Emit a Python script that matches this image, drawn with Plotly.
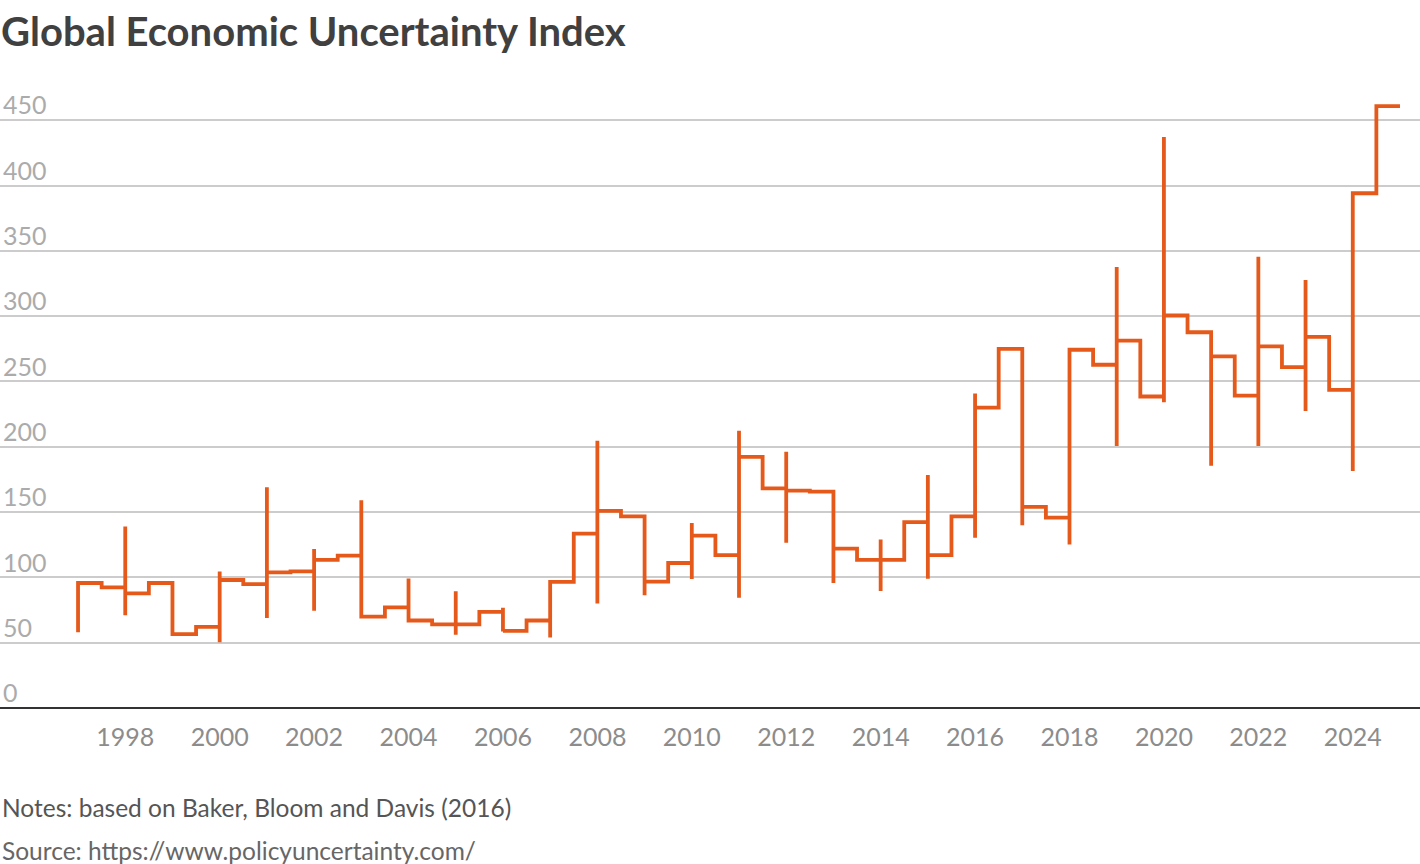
import plotly.graph_objects as go

# half-year index levels, 1997-2024 (first half, second half)
years = list(range(1997, 2025))
h1 = [95.7, 87.7, 56.5, 98.0, 103.8, 113.4, 70.0, 67.0, 64.0, 59.0,
      96.5, 151.0, 96.7, 132.0, 192.3, 166.4, 122.0, 113.4, 117.0, 230.0,
      154.0, 274.3, 281.3, 300.5, 269.2, 276.9, 284.1, 394.1]
h2 = [92.3, 95.7, 62.1, 94.9, 104.6, 116.7, 77.0, 64.0, 73.6, 67.0,
      133.5, 146.7, 111.0, 117.0, 168.2, 165.6, 113.4, 142.3, 146.7, 275.0,
      145.8, 262.8, 238.5, 287.7, 239.2, 261.0, 243.6, 460.8]
# range of the vertical stroke drawn at the start of each year
year_low = [58.0, 71.0, 56.5, 50.3, 69.0, 74.4, 70.0, 67.0, 56.0, 58.6,
            54.0, 80.0, 86.4, 98.8, 84.5, 126.5, 95.7, 89.5, 99.0, 130.3,
            140.0, 125.1, 200.5, 234.1, 185.4, 200.5, 227.4, 181.5]
year_high = [95.7, 139.0, 95.7, 104.6, 169.0, 121.8, 159.0, 99.2, 89.3, 76.8,
             96.5, 204.7, 146.7, 141.6, 212.3, 196.2, 165.6, 129.0, 178.3, 240.8,
             275.0, 274.3, 337.7, 437.2, 287.7, 345.4, 327.7, 394.1]

xs, ys = [], []
prev = None
for yr, a, b, lo, hi in zip(years, h1, h2, year_low, year_high):
    if prev is not None:
        xs += [yr, yr]
        ys += [prev, hi]
    xs += [yr, yr, yr + 0.5, yr + 0.5, yr + 1]
    ys += [lo, a, a, b, b]
    prev = b

orange = "#e5591a"
grey = "#9a9a9a"

fig = go.Figure()
fig.add_trace(go.Scatter(
    x=xs, y=ys, mode="lines",
    line=dict(color=orange, width=3.8),
    hoverinfo="skip", showlegend=False,
))

fig.update_layout(
    width=1420, height=864,
    margin=dict(l=0, r=0, t=68, b=156),
    paper_bgcolor="white", plot_bgcolor="white",
    font=dict(family="Lato", color=grey),
    xaxis=dict(
        range=[1995.347, 2025.424],
        tickvals=list(range(1998, 2025, 2)),
        showgrid=False, zeroline=False, showline=False,
        ticks="", ticklabelstandoff=12,
        tickfont=dict(size=25, color="#8c8c8c"),
    ),
    yaxis=dict(
        range=[0, 490],
        tickvals=[0, 50, 100, 150, 200, 250, 300, 350, 400, 450],
        showgrid=True, gridcolor="#cccccc", gridwidth=1.6,
        zeroline=True, zerolinecolor="#333333", zerolinewidth=2.4,
        ticklabelposition="inside top", ticklabelstandoff=0, ticklabelshift=3,
        tickfont=dict(size=25, color="#ababab"),
        ticks="",
    ),
    annotations=[
        dict(text="<b>Global Economic Uncertainty Index</b>", xref="paper", yref="paper",
             x=0, y=1.0578, xanchor="left", yanchor="middle", xshift=-1,
             showarrow=False, font=dict(size=40, color="#404040", family="Lato")),
        dict(text="Notes: based on Baker, Bloom and Davis (2016)", xref="paper", yref="paper",
             x=0, y=-0.1547, xanchor="left", yanchor="middle", showarrow=False,
             font=dict(size=24.5, color="#555555")),
        dict(text="Source: https://www.policyuncertainty.com/", xref="paper", yref="paper",
             x=0, y=-0.2219, xanchor="left", yanchor="middle", showarrow=False,
             font=dict(size=24.5, color="#666666")),
    ],
)

fig.write_html("out.html", config={"displayModeBar": False},
               post_script="document.body.style.margin='0';")
